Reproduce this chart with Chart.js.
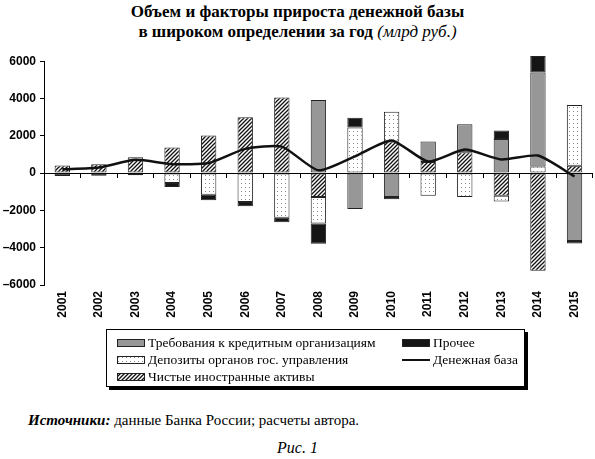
<!DOCTYPE html>
<html>
<head>
	<meta charset="UTF-8">
	<title>Объем и факторы прироста денежной базы</title>
	<script src="https://cdn.jsdelivr.net/npm/chart.js@4.4.1/dist/chart.umd.min.js"></script>
	<style>
		html, body { margin: 0; padding: 0; background: #fff; }
		#page { position: relative; width: 595px; height: 459px; overflow: hidden; font-family: "Liberation Serif", "DejaVu Serif", serif; color: #000; }
		#title { position: absolute; left: 0; top: 2px; width: 595px; text-align: center; font-weight: bold; font-size: 17px; line-height: 20px; }
		#title i { font-weight: normal; }
		#wrap { position: absolute; left: 0; top: 50px; width: 595px; height: 275px; }
		#legend { position: absolute; left: 106px; top: 329px; width: 419px; height: 58px; border: 1px solid #000; box-shadow: 3px 3px 0 #000;
			display: grid; grid-template-rows: repeat(3, 17px); grid-auto-flow: column; grid-template-columns: 285px auto;
			padding: 4px 0 0 10px; box-sizing: border-box; font-size: 13.5px; }
		#legend div { display: flex; align-items: center; white-space: nowrap; }
		#legend canvas { margin-right: 3px; }
		#source { position: absolute; left: 28px; top: 412px; font-size: 15px; }
		#fig { position: absolute; left: 0; top: 439px; width: 595px; text-align: center; font-style: italic; font-size: 16px; }
	</style>
</head>
<body>
<div id="page">
	<div id="title">Объем и факторы прироста денежной базы<br>в широком определении за год <i>(млрд руб.)</i></div>
	<div id="wrap"><canvas id="canvas"></canvas></div>
	<div id="legend"></div>
	<div id="source"><b><i>Источники:</i></b> данные Банка России; расчеты автора.</div>
	<div id="fig">Рис. 1</div>
</div>
<script>
	var years = ['2001','2002','2003','2004','2005','2006','2007','2008','2009','2010','2011','2012','2013','2014','2015'];
	// млрд руб.
	var foreignAssets = [410, 480, 710, 1370, 2010, 2990, 4060, -1280, 0, 1700, 590, 1120, -1220, -5240, 390];
	var govDeposits = [0, 0, 140, -530, -1160, -1550, -2400, -1420, 2440, 1590, -1220, -1280, -300, 360, 3260];
	var creditClaims = [0, 0, 0, 0, 0, 0, 0, 3920, -1920, -1280, 1110, 1500, 1830, 5030, -3640];
	var other = [-160, -140, -120, -220, -300, -230, -230, -1090, 530, -120, 0, 0, 450, 890, -140];
	var monetaryBase = [200, 300, 710, 480, 540, 1300, 1420, 150, 900, 1750, 620, 1260, 730, 940, -180];
	var yTicks = [-6000, -4000, -2000, 0, 2000, 4000, 6000];

	var legendOrder = ['Требования к кредитным организациям', 'Депозиты органов гос. управления', 'Чистые иностранные активы', 'Прочее', 'Денежная база'];

	function makePattern(kind) {
		var c = document.createElement('canvas');
		var ctx = c.getContext('2d');
		c.width = 4; c.height = 4;
		ctx.fillStyle = '#fff'; ctx.fillRect(0, 0, 4, 4);
		if (kind == 'hatch') {
			ctx.strokeStyle = '#111'; ctx.lineWidth = 1.3;
			ctx.beginPath();
			ctx.moveTo(0, 4); ctx.lineTo(4, 0);
			ctx.moveTo(-1, 1); ctx.lineTo(1, -1);
			ctx.moveTo(3, 5); ctx.lineTo(5, 3);
			ctx.stroke();
		} else {
			ctx.fillStyle = '#888';
			ctx.fillRect(1, 1, 1, 1);
		}
		return ctx.createPattern(c, 'repeat');
	}

	var hatch = makePattern('hatch');
	var dots = makePattern('dots');

	function barSet(label, data, fill) {
		return {
			type: 'bar', label: label, data: data, backgroundColor: fill,
			borderColor: '#222', borderWidth: 1, borderSkipped: false,
			stack: 'f', order: 1, clip: false,
			categoryPercentage: 1, barPercentage: 0.42
		};
	}

	var config = {
		data: {
			labels: years,
			datasets: [
				barSet('Чистые иностранные активы', foreignAssets, hatch),
				barSet('Депозиты органов гос. управления', govDeposits, dots),
				barSet('Требования к кредитным организациям', creditClaims, '#979797'),
				barSet('Прочее', other, '#151515'),
				{
					type: 'line', label: 'Денежная база', data: monetaryBase,
					borderColor: '#111', backgroundColor: '#111', borderWidth: 2.5,
					pointRadius: 0, tension: 0.2, stack: 'line', order: 0, fill: false
				}
			]
		},
		options: {
			responsive: true,
			maintainAspectRatio: false,
			animation: false,
			layout: { padding: { top: 10, right: 2, left: 0, bottom: 0 } },
			plugins: { legend: { display: false }, tooltip: { enabled: false }, title: { display: false } },
			scales: {
				x: {
					stacked: true, offset: true,
					grid: { display: false, drawTicks: false },
					border: { display: false },
					ticks: { color: '#000', font: { family: 'Arial, "Liberation Sans"', size: 12, weight: 'bold' }, minRotation: 90, maxRotation: 90, padding: 6 },
					afterFit: function(scale){ scale.height = 40; }
				},
				x2: {
					type: 'category', position: { y: 0 }, offset: true,
					grid: { offset: true, drawOnChartArea: false, drawTicks: true, tickLength: 4, tickColor: '#000' },
					border: { display: true, color: '#000', width: 1 },
					ticks: { display: false }
				},
				y: {
					stacked: true, min: -6000, max: 6000,
					afterBuildTicks: function(scale){ scale.ticks = yTicks.map(function(v){ return { value: v }; }); },
					grid: { drawOnChartArea: false, drawTicks: true, tickLength: 4, tickColor: '#000' },
					border: { display: true, color: '#000', width: 1 },
					ticks: {
						color: '#000', padding: 4,
						font: { family: 'Arial, "Liberation Sans"', size: 12, weight: 'bold' },
						callback: function(v){ return v < 0 ? '\u2013' + Math.abs(v) : String(v); }
					},
					afterFit: function(scale){ scale.width = 44; }
				}
			}
		}
	};

	var chart = new Chart(document.getElementById('canvas').getContext('2d'), config);

	// легенда в две колонки, как на рисунке
	var legend = document.getElementById('legend');
	legendOrder.forEach(function(name){
		var ds = chart.data.datasets.filter(function(d){ return d.label == name; })[0];
		var item = document.createElement('div');
		var sw = document.createElement('canvas');
		sw.width = 28; sw.height = 8;
		var ctx = sw.getContext('2d');
		if (ds.type == 'line') {
			ctx.strokeStyle = ds.borderColor; ctx.lineWidth = 2;
			ctx.beginPath(); ctx.moveTo(0, 4); ctx.lineTo(28, 4); ctx.stroke();
		} else {
			ctx.fillStyle = ds.backgroundColor; ctx.fillRect(0, 0, 28, 8);
			ctx.strokeStyle = '#222'; ctx.lineWidth = 1; ctx.strokeRect(0.5, 0.5, 27, 7);
		}
		item.appendChild(sw);
		item.appendChild(document.createTextNode(name));
		legend.appendChild(item);
	});
</script>
</body>
</html>
